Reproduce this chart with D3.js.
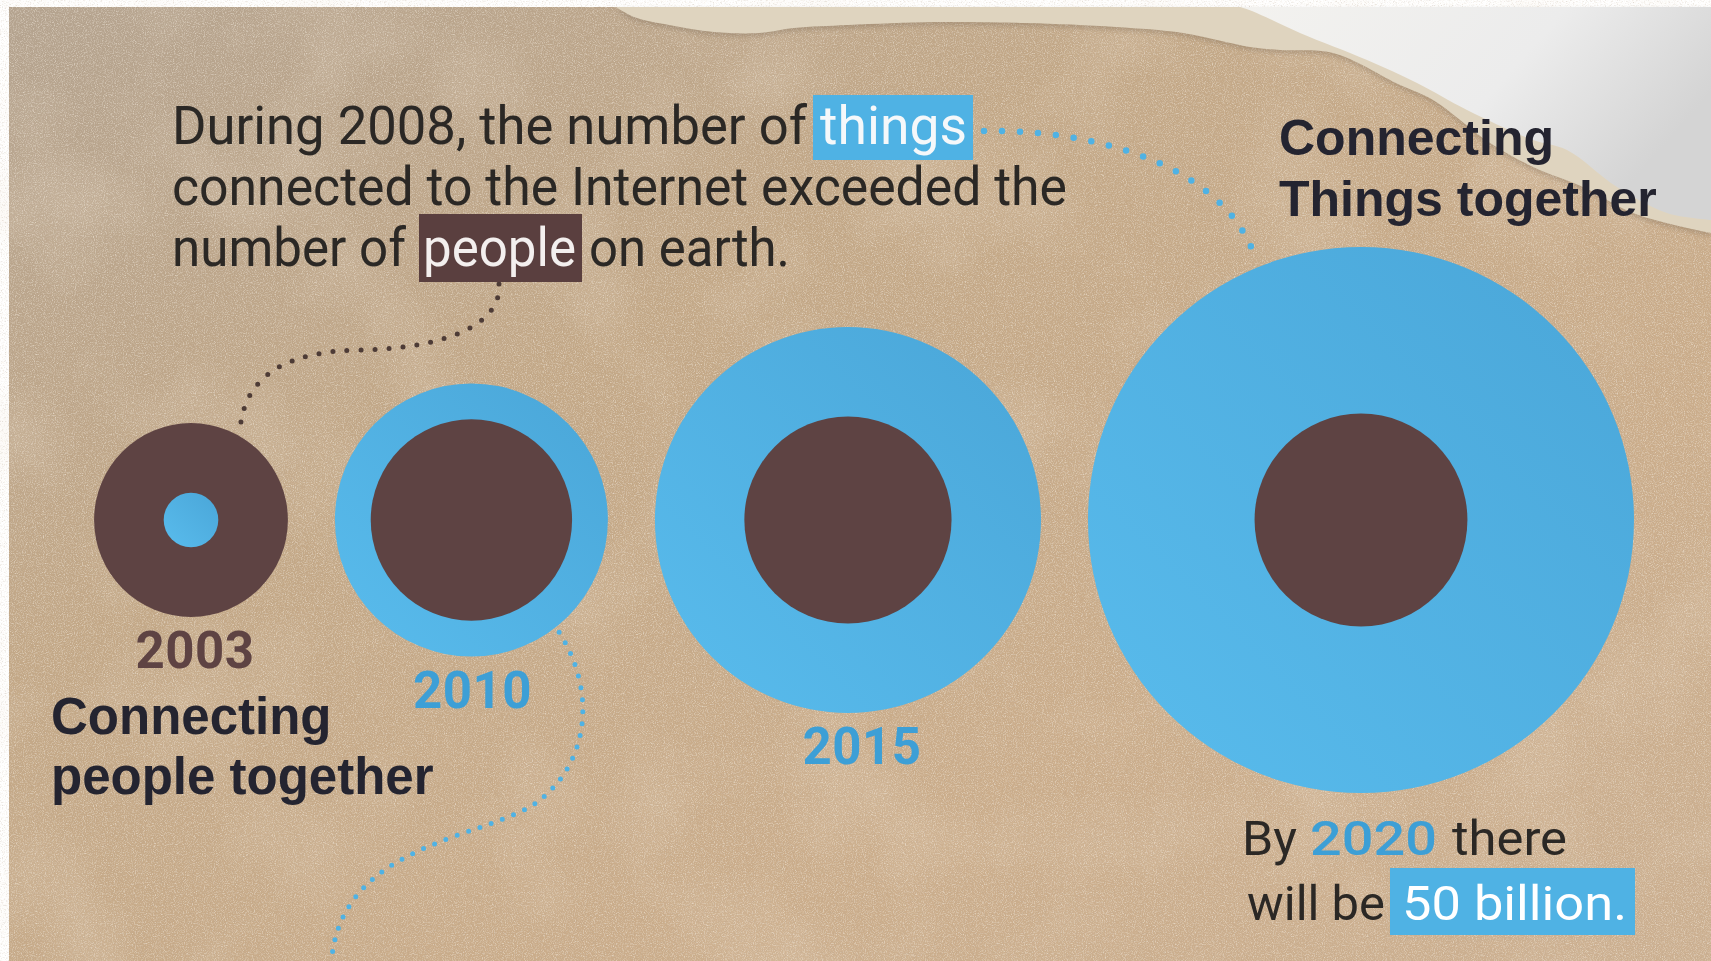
<!DOCTYPE html>
<html>
<head>
<meta charset="utf-8">
<style>
  html, body { margin: 0; padding: 0; background: #fff; overflow: hidden; }
  svg { display: block; }
</style>
<script src="https://cdn.jsdelivr.net/npm/d3@7"></script>
</head>
<body>
<script>
// data (billions)
var years  = [2003, 2010, 2015, 2020];
var things = [0.5, 12.5, 25, 50];   // connected devices
var people = [6.3, 6.8, 7.2, 7.6];  // world population

var noteText = ["During 2008, the number of", "things",
                "connected to the Internet exceeded the",
                "number of", "people", "on earth."];
var peopleLabel = ["Connecting", "people together"];
var thingsLabel = ["Connecting", "Things together"];
var calloutText = ["By", "2020", "there", "will be", "50 billion."];

(function(){
  var width = 1711, height = 961;
  var blue = "#4fb2e4", blueText = "#3d9fd6", brown = "#5e4343";
  var ink = "#2b2825", labelInk = "#242430";

  var svg = d3.select("body").append("svg")
    .attr("width", width)
    .attr("height", height);

  var defs = svg.append("defs");

  // paper colours
  var pg = defs.append("linearGradient").attr("id", "paperGrad")
    .attr("x1", 0).attr("y1", 0).attr("x2", 1).attr("y2", 1);
  pg.append("stop").attr("offset", "0").attr("stop-color", "#b4a38f");
  pg.append("stop").attr("offset", "0.35").attr("stop-color", "#c3a887");
  pg.append("stop").attr("offset", "0.7").attr("stop-color", "#cbad8b");
  pg.append("stop").attr("offset", "1").attr("stop-color", "#ccb091");

  var blueGrad = defs.append("linearGradient").attr("id", "blueGrad")
    .attr("x1", 1).attr("y1", 0).attr("x2", 0).attr("y2", 1);
  blueGrad.append("stop").attr("offset", "0").attr("stop-color", "#4aa6d8");
  blueGrad.append("stop").attr("offset", "1").attr("stop-color", "#59bced");

  var curlGrad = defs.append("linearGradient").attr("id", "curlGrad")
    .attr("x1", 0).attr("y1", 0).attr("x2", 1).attr("y2", 0.4);
  curlGrad.append("stop").attr("offset", "0").attr("stop-color", "#f3f2ef");
  curlGrad.append("stop").attr("offset", "0.6").attr("stop-color", "#ececec");
  curlGrad.append("stop").attr("offset", "1").attr("stop-color", "#d4d4d4");

  // grain filters
  var light = defs.append("filter").attr("id", "grainLight")
    .attr("filterUnits", "userSpaceOnUse")
    .attr("x", 0).attr("y", 0).attr("width", width).attr("height", height);
  light.append("feTurbulence").attr("type", "fractalNoise")
    .attr("baseFrequency", 0.9).attr("numOctaves", 3).attr("seed", 4);
  light.append("feColorMatrix").attr("type", "matrix")
    .attr("values", "0 0 0 0 0.93  0 0 0 0 0.87  0 0 0 0 0.78  2.2 0 0 0 -1.0");

  var dark = defs.append("filter").attr("id", "grainDark")
    .attr("filterUnits", "userSpaceOnUse")
    .attr("x", 0).attr("y", 0).attr("width", width).attr("height", height);
  dark.append("feTurbulence").attr("type", "fractalNoise")
    .attr("baseFrequency", 0.75).attr("numOctaves", 2).attr("seed", 11);
  dark.append("feColorMatrix").attr("type", "matrix")
    .attr("values", "0 0 0 0 0.45  0 0 0 0 0.36  0 0 0 0 0.28  0 -2.2 0 0 1.02");

  var mottle = defs.append("filter").attr("id", "mottle")
    .attr("filterUnits", "userSpaceOnUse")
    .attr("x", 0).attr("y", 0).attr("width", width).attr("height", height);
  mottle.append("feTurbulence").attr("type", "fractalNoise")
    .attr("baseFrequency", 0.008).attr("numOctaves", 3).attr("seed", 2);
  mottle.append("feColorMatrix").attr("type", "matrix")
    .attr("values", "0 0 0 0 0.86  0 0 0 0 0.75  0 0 0 0 0.62  1.6 0 0 0 -0.75");

  var soft = defs.append("filter").attr("id", "soft")
    .attr("x", "-5%").attr("y", "-5%").attr("width", "110%").attr("height", "110%");
  soft.append("feGaussianBlur").attr("stdDeviation", 2.5);

  // paper
  var paper = svg.append("g");
  function sheet(){
    return paper.append("rect").attr("x", 9).attr("y", 7)
      .attr("width", width - 9).attr("height", height - 7);
  }
  sheet().attr("fill", "url(#paperGrad)");
  sheet().attr("filter", "url(#mottle)").attr("opacity", 0.3);
  sheet().attr("filter", "url(#grainLight)").attr("opacity", 0.6);
  sheet().attr("filter", "url(#grainDark)").attr("opacity", 0.45);

  // torn top-right corner
  var tearEdge = [[616,7],[634,17],[669,25],[714,32],[759,33],[794,28],[848,25],[937,22],
    [1026,23],[1116,27],[1183,33],[1250,47],[1280,50],[1333,53],[1400,85],[1433,100],
    [1490,143],[1533,167],[1583,187],[1633,213],[1683,227],[1711,233]];
  var curlEdge = [[1240,7],[1252,11],[1300,33],[1367,60],[1417,83],[1467,110],[1533,140],
    [1567,150],[1617,187],[1667,213],[1711,220]];
  var edgeLine = d3.line().curve(d3.curveCatmullRom);

  paper.append("path")
    .attr("d", edgeLine(tearEdge) + "L1711,7Z")
    .attr("fill", "#6f5f4e").attr("opacity", 0.3).attr("filter", "url(#soft)")
    .attr("transform", "translate(0,3)");
  paper.append("path")
    .attr("d", edgeLine(tearEdge) + "L1711,7Z")
    .attr("fill", "#dfd4bf");
  paper.append("path")
    .attr("d", edgeLine(curlEdge) + "L1711,7Z")
    .attr("fill", "url(#curlGrad)");

  // circles
  var maxVal = d3.max(things.concat(people));
  var r = d3.scaleSqrt().domain([0, maxVal]).range([0, 273]);
  var cy = 520, gap = 47;
  var outerR = years.map(function(d, i){ return r(Math.max(things[i], people[i])); });
  var cx = [];
  years.forEach(function(d, i){
    cx[i] = i === 0 ? 191 : cx[i-1] + outerR[i-1] + gap + outerR[i];
  });

  var rows = years.map(function(y, i){
    return { year: y, things: things[i], people: people[i], cx: cx[i], R: outerR[i] };
  });

  var groups = svg.append("g").selectAll("g").data(rows).join("g");
  groups.each(function(d){
    var g = d3.select(this);
    var layers = [
      { v: d.things, fill: "url(#blueGrad)" },
      { v: d.people, fill: brown }
    ].sort(function(a, b){ return b.v - a.v; });
    g.selectAll("circle").data(layers).join("circle")
      .attr("cx", d.cx).attr("cy", cy)
      .attr("r", function(l){ return r(l.v); })
      .attr("fill", function(l){ return l.fill; });
  });

  // year labels (last year is told by the callout)
  var nudge = [4, 1, 14];
  svg.append("g").selectAll("text").data(rows.slice(0, 3)).join("text")
    .attr("x", function(d, i){ return d.cx + nudge[i]; })
    .attr("y", function(d){ return cy + d.R + 51; })
    .attr("text-anchor", "middle")
    .attr("font-family", "Roboto, sans-serif")
    .attr("font-weight", 700)
    .attr("font-size", 51)
    .attr("letter-spacing", 0.5)
    .attr("fill", function(d){ return d.people > d.things ? brown : blueText; })
    .text(function(d){ return d.year; });

  // dotted connectors
  var dots = svg.append("g").attr("fill", "none").attr("stroke-linecap", "round");
  function polar(i, ang, extra){
    var a = ang * Math.PI / 180;
    return [cx[i] + (outerR[i] + extra) * Math.cos(a), cy + (outerR[i] + extra) * Math.sin(a)];
  }
  var p0 = [499, 284], e0 = polar(0, -62, 8);
  var brownPath = d3.path();
  brownPath.moveTo(p0[0], p0[1]);
  brownPath.bezierCurveTo(502, 322, 452, 348, 360, 350);
  brownPath.bezierCurveTo(292, 351, 246, 372, e0[0], e0[1]);
  dots.append("path").attr("d", brownPath.toString())
    .attr("stroke", "#4d3b36").attr("stroke-width", 5).attr("stroke-dasharray", "0 14");

  var p1 = [984, 131], e1 = polar(3, -112, 6);
  var topPath = d3.path();
  topPath.moveTo(p1[0], p1[1]);
  topPath.bezierCurveTo(1100, 129, 1228, 168, e1[0], e1[1]);
  dots.append("path").attr("d", topPath.toString())
    .attr("stroke", blue).attr("stroke-width", 6.5).attr("stroke-dasharray", "0 18");

  var s2 = polar(1, 52, 6);
  var botPath = d3.path();
  botPath.moveTo(s2[0], s2[1]);
  botPath.bezierCurveTo(596, 690, 590, 760, 540, 800);
  botPath.bezierCurveTo(490, 840, 330, 840, 331, 975);
  dots.append("path").attr("d", botPath.toString())
    .attr("stroke", blue).attr("stroke-width", 5).attr("stroke-dasharray", "0 12");

  // note paragraph
  var note = svg.append("g")
    .attr("font-family", "Roboto, sans-serif")
    .attr("font-size", 54)
    .attr("fill", ink);
  note.append("rect").attr("x", 813).attr("y", 95).attr("width", 160).attr("height", 65).attr("fill", blue);
  note.append("rect").attr("x", 419).attr("y", 214).attr("width", 163).attr("height", 68).attr("fill", "#5a3f3f");
  var seg = [
    { x: 172, y: 144, w: 635, fill: ink },
    { x: 820, y: 144, w: 147, fill: "#f5f8fa" },
    { x: 172, y: 205, w: 895, fill: ink },
    { x: 172, y: 266, w: 234, fill: ink },
    { x: 423, y: 266, w: 153, fill: "#f3efee" },
    { x: 589, y: 266, w: 201, fill: ink }
  ];
  note.selectAll("text").data(noteText).join("text")
    .attr("x", function(d, i){ return seg[i].x; })
    .attr("y", function(d, i){ return seg[i].y; })
    .attr("textLength", function(d, i){ return seg[i].w; })
    .attr("lengthAdjust", "spacingAndGlyphs")
    .attr("fill", function(d, i){ return seg[i].fill; })
    .text(function(d){ return d; });

  // bold labels
  var bold = svg.append("g")
    .attr("font-family", "'Liberation Sans', Arial, sans-serif")
    .attr("font-weight", "bold")
    .attr("font-size", 51)
    .attr("fill", labelInk);
  bold.selectAll("text.p").data(peopleLabel).join("text").attr("class", "p")
    .attr("x", 51).attr("y", function(d, i){ return 734 + i * 60; })
    .text(function(d){ return d; });
  bold.selectAll("text.t").data(thingsLabel).join("text").attr("class", "t")
    .attr("x", 1279).attr("y", function(d, i){ return 155 + i * 61; })
    .attr("font-size", 50)
    .text(function(d){ return d; });

  // 2020 callout
  var call = svg.append("g")
    .attr("font-family", "Roboto, sans-serif")
    .attr("font-size", 49)
    .attr("fill", ink);
  call.append("rect").attr("x", 1390).attr("y", 868).attr("width", 245).attr("height", 67).attr("fill", blue);
  var cseg = [
    { x: 1242, y: 855, w: 55, fill: ink, weight: 400 },
    { x: 1310, y: 855, w: 127, fill: blueText, weight: 500 },
    { x: 1452, y: 855, w: 115, fill: ink, weight: 400 },
    { x: 1247, y: 920, w: 138, fill: ink, weight: 400 },
    { x: 1402, y: 920, w: 225, fill: "#ffffff", weight: 400 }
  ];
  call.selectAll("text").data(calloutText).join("text")
    .attr("x", function(d, i){ return cseg[i].x; })
    .attr("y", function(d, i){ return cseg[i].y; })
    .attr("textLength", function(d, i){ return cseg[i].w; })
    .attr("lengthAdjust", "spacingAndGlyphs")
    .attr("font-weight", function(d, i){ return cseg[i].weight; })
    .attr("fill", function(d, i){ return cseg[i].fill; })
    .text(function(d){ return d; });
})();
</script>
</body>
</html>
